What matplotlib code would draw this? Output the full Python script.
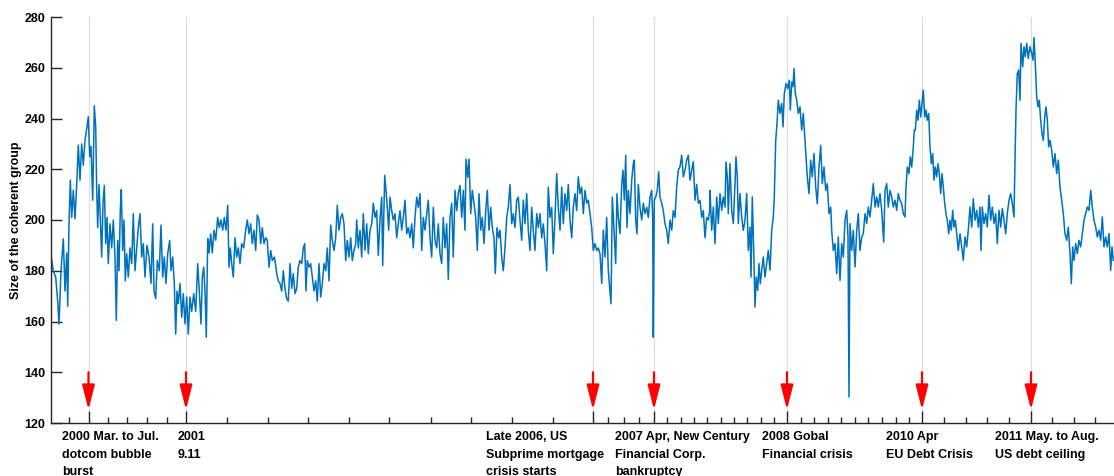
import numpy as np
import matplotlib
matplotlib.use("Agg")
import matplotlib.pyplot as plt

plt.rcParams["font.family"] = ["Liberation Sans", "DejaVu Sans"]
plt.rcParams["font.weight"] = "bold"

LINE_BLUE = "#0072BD"
AXIS_GREY = "#262626"

# time index (trading-time units along the x axis) and size of the coherent group
t_dotcom = [
    0, 2.3, 4.7, 6.7, 8, 10, 12.3, 14, 15.7, 16.7, 18, 19.3, 20.7, 22.3, 24, 25.7,
    27.3, 29, 30.7, 32.3, 34, 36, 37.3, 38.7, 40, 41.7, 43.3, 44.7, 45.7, 46.7, 48,
    49.3, 50.7, 52, 53.3, 54.7, 56, 57.3, 59, 60.7, 62.3, 64, 65.3, 66.7, 68, 69.3,
    70.3, 71.7, 73, 74.3, 75.7, 77.3, 79, 80.7, 82.3, 84, 85.7, 87.3, 89, 90.7, 92.3,
    94, 96, 98, 100, 101.7, 103, 104.7, 106.3, 108.3, 110, 111.7, 113.3, 115, 116.7,
    118.7, 120, 121.7, 123.3, 124.7, 126, 127.3, 129, 130.7, 132.3, 134, 135.7, 137.3,
    139, 140.7, 142.7, 144.7, 146.7, 148.3, 150, 151.3, 152.7, 154, 155.3, 156.7, 158,
    159.7, 161.3, 163, 164.7, 166.7, 168.3, 170, 171.7, 173.3, 175, 176.7, 178, 179.3,
    180.7, 182.3, 184, 185.7, 187.3, 189, 190.7, 192.7, 194.7, 196.3, 198, 199.7,
    201.3, 203, 204.7, 206.3, 208, 209.7, 211.3, 213, 214.7, 216.3, 218, 219.7, 221.3,
    223.3,
]
size_dotcom = [
    186, 180, 177.5, 168, 159, 180, 192.6, 172, 187, 166, 198.5, 215.7, 201, 211.7,
    200.5, 214, 229.5, 215.7, 230, 221.6, 231.4, 236.7, 240.7, 225, 229, 207.8, 245,
    236.7, 211.7, 197, 214, 201, 185.4, 206.6, 213.6, 190.7, 201, 182.8, 198.5, 189,
    200, 185.4, 160.4, 192, 180, 203.7, 212, 188, 200, 176, 186.7, 177.5, 189, 182.8,
    202.5, 180, 189, 197, 202.5, 185.4, 190.7, 177.5, 190, 185.4, 175, 198.5, 172, 169,
    184, 180, 198, 177.5, 185.4, 175, 186.7, 192, 180, 185.4, 175, 155, 172, 167, 175,
    161.7, 171, 159, 169.6, 155, 169.6, 164, 171, 164, 182.8, 172, 159, 177.5, 181.4,
    172, 153.8, 192.6, 187, 194.6, 187, 196, 192, 201, 197, 200, 196, 201, 196, 205.8,
    181.4, 189, 182.8, 177.5, 193, 185.4, 189, 182.8, 190.7, 189, 196, 200, 194.6,
    198.5, 190.7, 196, 188, 202, 200, 190.7, 197, 190.7, 193, 192, 181.4, 188, 184,
    185.4,
]

t_midcycle = [
    224, 225.7, 227.3, 229, 230.7, 232.3, 234, 235.7, 237.3, 239, 240.7, 242.3, 244,
    245.7, 247.3, 249, 250.7, 252.3, 253.7, 255, 256.3, 258, 259.7, 261.3, 263, 264.7,
    266.3, 268, 269.7, 271.3, 273, 274.7, 276.3, 278, 279.7, 281.3, 283, 284.7, 286.3,
    288, 289.7, 291.3, 293, 294.7, 296.3, 298, 299.7, 301.3, 303, 304.7, 305.7, 307.3,
    309, 310.7, 312.3, 314, 315.7, 317.3, 319, 320.7, 322.3, 324, 325.7, 327.3, 329,
    330.7, 331.7, 333.7, 335, 336.3, 337.7, 339, 340.7, 342.3, 344, 345.7, 347.3, 349,
    350.7, 352.3, 354, 355.7, 357.3, 359, 360.7, 362.3, 364, 365.7, 367.3, 369, 370.7,
    372.3, 374, 375.7, 377.3, 379, 380.7, 382.3, 384, 385.7, 387.3, 389, 390.7, 392.3,
    394, 395.7, 397.3, 399, 400.7, 402.3, 404, 405.7, 407.3, 409, 410.7, 412.3, 414,
    415, 416.7, 418, 419.7, 421.3, 423, 424.7, 426.3, 428, 429.7, 431.3, 433, 434.7,
    436.3, 438, 439.7, 441.3, 443, 444.3, 446, 447.7,
]
size_midcycle = [
    184, 178.9, 176, 175, 172, 180, 173, 169, 168, 182.8, 173, 178.9, 171, 173, 181.4,
    184, 182.8, 189, 190.7, 172, 184, 181.4, 182.8, 177.5, 172, 176, 168, 182.8, 169.6,
    175, 182.8, 180, 189, 176, 198, 192, 188, 193, 205.8, 196, 201, 202.5, 198.5, 184,
    192, 185.4, 193, 184, 188, 190.7, 200, 189, 196, 185.4, 202.5, 188, 198.5, 186.7,
    196, 198.5, 206.6, 201, 203.7, 186, 200, 209, 182, 217.6, 211.7, 205, 196, 209,
    203.7, 200, 202.5, 193, 198.5, 203.7, 196, 201, 207.8, 194.6, 197, 193, 198.5, 189,
    201, 209, 205, 210.4, 188, 201, 196, 202.5, 207.8, 193, 185.4, 205, 192, 189,
    198.5, 186.7, 182.8, 201, 189, 198.5, 176.6, 201, 206.6, 185.4, 211.7, 203.7,
    210.4, 213.6, 201, 211.7, 196, 224, 216.8, 224, 202.5, 211.7, 206.6, 201, 188,
    210.4, 196, 201, 190.7, 203.7, 211.7, 196, 205, 197, 193, 178.9, 197, 193,
]

t_subprime = [
    449, 450.7, 452.3, 454, 455.7, 457.3, 459, 460.7, 462.3, 464, 465.7, 467.3, 469,
    470.7, 472.3, 474, 475.7, 477.3, 479, 480.7, 482.3, 484, 485.7, 487.3, 489, 490.7,
    492.3, 494, 495.7, 497.3, 499, 500.7, 502.3, 504, 505.7, 507.3, 509, 510.7, 512.3,
    514, 515.7, 517.3, 519, 520.7, 522.3, 524, 525.7, 527.3, 529, 530.7, 532.3, 534,
    535.7, 537.3, 539, 540.7, 542.3, 544, 545.7, 547.3, 549, 550.7, 552.3, 554, 555.7,
    557.3, 559, 560, 561.3, 563, 564.7, 566, 567.3, 569, 570.7, 572, 573.3, 574.7, 576,
    577.3, 579, 580.7, 582.3, 583.3, 584.7, 586, 587.3, 589, 590.7, 592.3, 594, 595.7,
    597.3, 599, 600.7, 601.7, 602.3, 603.3, 604.7, 606.3, 607.7, 609, 610.7, 612.3,
    614, 615.7, 617.3, 619, 620.7, 622.3, 624, 625.7, 627.3, 629, 630.7, 632.3, 634,
    635.7, 637.3, 639, 640.7, 642.3, 644, 645.7, 647.3, 649, 650.7, 652.3, 654, 655.7,
    657.3, 658.7,
]
size_subprime = [
    196, 185.4, 180, 189, 201, 205, 214, 198.5, 202.5, 197, 207.8, 209, 200, 192, 207.8,
    198.5, 210.4, 196, 188, 205, 196, 188, 202.5, 197, 202.5, 193, 198.5, 190.7, 180,
    213, 201, 205, 186.7, 201, 218.3, 205, 196, 213, 198.5, 210.4, 203.7, 214, 200, 193,
    205, 210.4, 203.7, 217, 210.4, 213, 202.5, 211.7, 206.6, 207.8, 202.5, 197, 188,
    190.7, 188, 189, 186.7, 175, 196, 185.4, 201, 180, 172, 167, 209, 196, 182.8, 210.4,
    201, 194.6, 214, 219.6, 207.8, 225.5, 197, 211.7, 202.5, 215.7, 222.2, 223.6, 200,
    194.6, 214, 205, 200, 206.6, 202.5, 205, 201, 209, 211.7, 201, 153.8, 207.8, 209,
    211.7, 219, 209, 206.6, 203.7, 198.5, 196, 190.7, 200, 196, 203.7, 201, 213, 219.6,
    221, 225.5, 217, 219.6, 223.6, 225.5, 215.7, 219.6, 223, 207.8, 214, 206.6, 207.8,
    201, 203.7, 193, 201, 200, 203.7,
]

t_gfc = [
    659, 660.7, 662.3, 664, 665.7, 667.3, 669, 670.7, 672.3, 674, 675, 676.3, 677.3,
    679, 680.7, 682.3, 684, 685, 686.3, 687.3, 689, 690.7, 692.3, 694, 695.7, 697.3,
    699, 700, 701.3, 702.7, 704, 705.3, 706.7, 708, 709.3, 710.7, 712.3, 714, 715.7,
    717.3, 719, 720.7, 722.3, 723.3, 724.7, 726, 727.3, 729, 730.7, 732, 733.3, 735,
    736.7, 738.3, 739.3, 740.7, 742, 743, 744.3, 745.7, 747.3, 749, 750.7, 752.3, 754,
    755, 756.3, 758, 759.7, 761.3, 763, 764.7, 766.3, 768, 769.7, 771.3, 773, 774.7,
    776.3, 778, 779.7, 780.7, 782.3, 784, 785.7, 787.3, 789, 790.7, 792.3, 794, 795.7,
    797, 798, 799, 800.7, 802.3, 804, 805.7, 807.3, 809, 810.7, 812.3, 814, 815.7,
    817.3, 819, 820.7, 822.3, 824, 825.7, 827.3, 829, 830.7, 832.7, 834, 835.7, 837.3,
    839, 840.7, 842.3, 844, 845.7, 847.3, 849, 850.7, 852.3, 854, 855, 856.3, 858,
    859.3, 860.7, 862.3, 863.3,
]
size_gfc = [
    211.7, 195.9, 205.1, 190.7, 209.1, 198.6, 210.4, 203.8, 209.1, 205.1, 222.9, 217,
    202.5, 222.2, 203.8, 198.6, 214.3, 224.9, 217, 198.6, 210.4, 201.2, 195.9, 199.9,
    210.4, 188, 197.2, 177.5, 209.1, 188, 165.7, 177.5, 172.3, 182.8, 174.9, 180.2,
    185.4, 177.5, 182.8, 188, 180.2, 195.9, 201.2, 209.1, 231.4, 238, 247.2, 242, 245.9,
    236.7, 249.8, 253.8, 251.8, 255.1, 243.3, 254.4, 252.5, 259.7, 249.8, 247.2, 242,
    244.6, 235.4, 242, 231.4, 224.9, 217, 210.4, 223.6, 217, 226.2, 213, 206.4, 220.9,
    229.4, 214.3, 220.9, 211.7, 214.3, 202.5, 205.1, 195.9, 188, 190.7, 178.8, 193.3,
    176.2, 190.7, 185.4, 199.9, 203.8, 193.3, 130.2, 198.6, 188, 195.9, 181.5, 195.9,
    202.5, 188, 193.3, 194.6, 202.5, 198.6, 205.1, 201.2, 207.8, 214.3, 205.1, 209.1,
    205.1, 210.4, 203.8, 191.3, 211.7, 214.3, 205.1, 211.7, 209.1, 205.1, 207.8, 203.8,
    210.4, 207.8, 206.4, 202.5, 201.2, 213, 220.9, 218.3, 224.9, 220.9, 228.8, 235.4,
]

t_debt = [
    864.3, 865.7, 867, 868.3, 869.7, 871, 872.3, 873.7, 875, 876.3, 877.7, 879, 880.3,
    881.7, 883, 884.3, 885.7, 887, 888.3, 889.7, 891, 892.3, 893.7, 895, 896.3, 897.7,
    899, 900.3, 901.7, 903, 904.3, 905.7, 907.3, 909, 910.7, 912.3, 914, 915.7, 917.3,
    919, 920.7, 922.3, 924, 925.7, 927.3, 929, 930, 931.3, 933, 934.7, 936.3, 938,
    939.7, 941.3, 943, 944.7, 946.3, 948, 949.7, 951.3, 953, 954.7, 956.3, 958, 959.7,
    961.3, 963, 964, 965, 966.3, 967.7, 969, 970, 971.7, 973, 974.3, 975.7, 977.3, 979,
    980.7, 982, 983, 984.3, 985.7, 987, 988.3, 989.7, 991, 992.3, 993.7, 995, 996.3,
    997.7, 999, 1000.7, 1002.3, 1004, 1005.7, 1007.3, 1009, 1010.7, 1012.3, 1014,
    1015.7, 1017.3, 1019, 1020.3, 1021.7, 1023, 1024.7, 1026.3, 1028, 1029.7, 1031.3,
    1033, 1034.7, 1036.3, 1038, 1039.7, 1041.3, 1043, 1044.7, 1046.3, 1048, 1049.7,
    1051.3, 1053, 1054.7, 1056.3, 1058, 1059.7, 1061, 1062.3,
]
size_debt = [
    235.4, 243.3, 239.3, 247.2, 240.6, 245.9, 251.2, 240.6, 243.3, 239.3, 242, 228.8,
    222.2, 226.2, 215.7, 220.9, 217, 222.2, 218.3, 210.4, 218.3, 213, 206.5, 202.5,
    199.9, 194.6, 199.9, 196, 203.8, 197.2, 199.9, 194.6, 188, 194.6, 189.4, 184.1,
    193.3, 189.4, 196, 205.1, 197.2, 208.4, 199.9, 203.8, 197.2, 205.1, 188, 205.1,
    198.6, 202.5, 197.2, 209.8, 199.9, 205.1, 198.6, 202.5, 190.7, 203.8, 197.2, 204.5,
    199.9, 194.6, 202.5, 207.8, 210.4, 206.5, 201.2, 223.6, 243.3, 257.7, 259.1, 247.2,
    269.6, 260.4, 268.3, 264.3, 269.6, 263.7, 268.3, 265.6, 263, 271.9, 261.7, 248.5,
    244.6, 247.2, 239.3, 234.1, 231.4, 240.6, 244.6, 239.3, 228.8, 231.4, 227.5, 220.9,
    226.2, 218.3, 223.6, 213, 207.8, 202.5, 194.6, 192, 197.2, 186.7, 174.9, 189.4,
    184.1, 190.7, 186.7, 192, 189.4, 194.6, 199.9, 202.5, 205.1, 203.8, 211.7, 205.1,
    199.9, 197.2, 193.3, 196, 192, 201.2, 189.4, 193.3, 189.4, 194.6, 180.2, 189.4,
    184.1,
]

# crisis events: position on the time axis and their captions
event_t = [37.5, 135, 542, 603, 736, 871, 980]
event_labels = [
    "2000 Mar. to Jul.\ndotcom bubble\nburst",
    "2001\n9.11",
    "Late 2006, US\nSubprime mortgage\ncrisis starts",
    "2007 Apr, New Century\nFinancial Corp.\nbankruptcy",
    "2008 Gobal\nFinancial crisis",
    "2010 Apr\nEU Debt Crisis",
    "2011 May. to Aug.\nUS debt ceiling",
]
label_t = [11, 127, 435, 564, 711, 835, 944]
minor_t = [
    18, 57, 76, 96, 116, 176, 217, 257, 298, 338, 380, 420, 461, 502, 557, 573, 588,
    616, 630, 643, 656, 670, 683, 696, 710, 723, 750, 763, 777, 790, 804, 817, 831,
    845, 858, 893, 915, 936, 958, 1001, 1023, 1044,
]

t = np.concatenate([t_dotcom, t_midcycle, t_subprime, t_gfc, t_debt])
size = np.concatenate([size_dotcom, size_midcycle, size_subprime, size_gfc, size_debt])

fig = plt.figure(figsize=(11.14, 4.76), dpi=100)
ax = fig.add_axes([51 / 1114, 53 / 476, 1063 / 1114, 406 / 476])

for x in event_t:
    ax.axvline(x, color="#dcdcdc", lw=0.8, zorder=1)
ax.plot(t, size, color=LINE_BLUE, lw=1.1, zorder=2)

ax.set_xlim(0, 1063)
ax.set_ylim(120, 280)
ax.set_yticks(np.arange(120, 281, 20))
ax.set_xticks(event_t)
ax.set_xticks(minor_t, minor=True)
ax.tick_params(axis="x", which="major", direction="in", length=9, width=1,
               color=AXIS_GREY, labelbottom=False)
ax.tick_params(axis="x", which="minor", direction="in", length=4, width=1,
               color=AXIS_GREY)
ax.tick_params(axis="y", direction="in", length=8, width=1, color=AXIS_GREY,
               labelsize=9, pad=4)
for side in ["top", "right"]:
    ax.spines[side].set_visible(False)
for side in ["left", "bottom"]:
    ax.spines[side].set_color(AXIS_GREY)
    ax.spines[side].set_linewidth(1)

ax.set_ylabel("Size of the coherent group", fontsize=9, fontweight="bold")
ax.yaxis.set_label_coords(-0.027, 0.5)

for x in event_t:
    ax.annotate("", xy=(x, 125.2), xytext=(x, 140),
                arrowprops=dict(arrowstyle="-|>,head_length=1.5,head_width=0.38",
                                color="red", lw=1.6, mutation_scale=10,
                                shrinkA=0, shrinkB=0),
                annotation_clip=False, zorder=3)

for x, label in zip(label_t, event_labels):
    ax.text(x, 116.8, label, ha="left", va="top", fontsize=9,
            fontweight="bold", linespacing=1.6, clip_on=False)

fig.savefig("out.png", dpi=100)
